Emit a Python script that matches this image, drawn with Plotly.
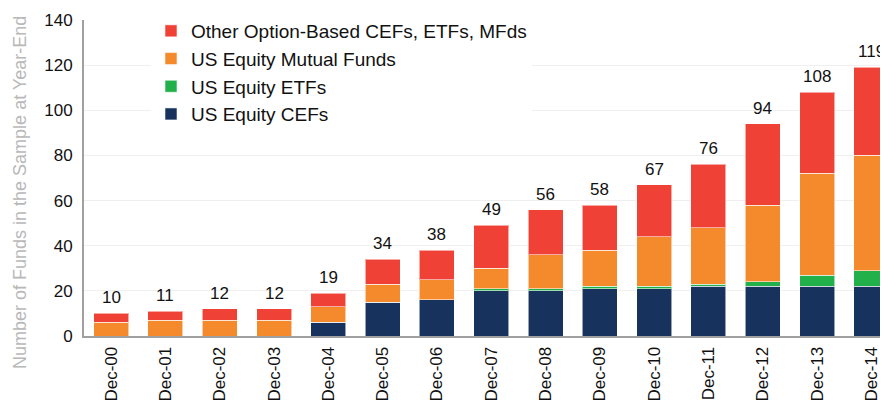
import plotly.graph_objects as go

categories = ["Dec-00", "Dec-01", "Dec-02", "Dec-03", "Dec-04", "Dec-05", "Dec-06", "Dec-07",
              "Dec-08", "Dec-09", "Dec-10", "Dec-11", "Dec-12", "Dec-13", "Dec-14"]
us_equity_cefs = [0, 0, 0, 0, 6, 15, 16, 20, 20, 21, 21, 22, 22, 22, 22]
us_equity_etfs = [0, 0, 0, 0, 0, 0, 0, 1, 1, 1, 1, 1, 2, 5, 7]
us_equity_mfs = [6, 7, 7, 7, 7, 8, 9, 9, 15, 16, 22, 25, 34, 45, 51]
other_option = [4, 4, 5, 5, 6, 11, 13, 19, 20, 20, 23, 28, 36, 36, 39]
y_ticks = [0, 20, 40, 60, 80, 100, 120, 140]

series = [
    ("US Equity CEFs", us_equity_cefs, "#17325C", 4),
    ("US Equity ETFs", us_equity_etfs, "#22B04B", 3),
    ("US Equity Mutual Funds", us_equity_mfs, "#F58A2D", 2),
    ("Other Option-Based CEFs, ETFs, MFds", other_option, "#EF4136", 1),
]

FONT = "Liberation Sans, Arial, sans-serif"
fig = go.Figure()
for i, (name, vals, col, rank) in enumerate(series):
    fig.add_trace(go.Bar(
        x=categories, y=vals, name=name, legendgroup=f"g{i}", legendrank=rank,
        marker=dict(color=col, line=dict(color="rgba(255,255,255,0.55)", width=1)),
        width=0.645,
    ))

totals = [a + b + c + d for a, b, c, d in zip(us_equity_cefs, us_equity_etfs, us_equity_mfs, other_option)]
for cat, tot in zip(categories, totals):
    fig.add_annotation(x=cat, y=tot, text=str(tot), showarrow=False,
                       yanchor="bottom", yshift=4,
                       font=dict(family=FONT, size=17, color="#111111"))

# page has an 8px body margin; figure coordinates are offset accordingly
W, H = 888, 404
ml, mr, mt, mb = 76, 8, 12, 76
pw = W - ml - mr
ph = H - mt - mb

fig.add_annotation(xref="paper", yref="paper",
                   x=(12 - ml) / pw, y=(H - mb - 185) / ph,
                   text="Number of Funds in the Sample at Year-End",
                   textangle=-90, showarrow=False, xanchor="center", yanchor="middle",
                   font=dict(family=FONT, size=18, color="#B8B8B8"))

fig.update_layout(
    width=W, height=H,
    margin=dict(l=ml, r=mr, t=mt, b=mb, autoexpand=False),
    barmode="stack",
    plot_bgcolor="white", paper_bgcolor="white",
    font=dict(family=FONT, color="#111111"),
    showlegend=True,
    legend=dict(
        x=(143 - ml) / pw, y=1.0 + 8 / ph, xanchor="left", yanchor="top",
        bgcolor="white", borderwidth=0,
        traceorder="grouped", tracegroupgap=0,
        font=dict(family=FONT, size=19, color="#111111"),
    ),
    xaxis=dict(
        range=[-0.5, -0.5 + pw / 54.3], automargin=False,
        tickangle=-90, tickfont=dict(family=FONT, size=17, color="#111111"),
        showline=True, linecolor="#A0A0A0", linewidth=2,
        showgrid=False, ticks="", ticklabelstandoff=2,
    ),
    yaxis=dict(
        range=[0, 140], tickvals=y_ticks, automargin=False,
        tickfont=dict(family=FONT, size=17, color="#111111"),
        showline=True, linecolor="#A0A0A0", linewidth=2,
        showgrid=True, gridcolor="#EFEFEF", gridwidth=1,
        zeroline=False, ticks="", ticklabelstandoff=6,
    ),
)

fig.write_html("out.html")
